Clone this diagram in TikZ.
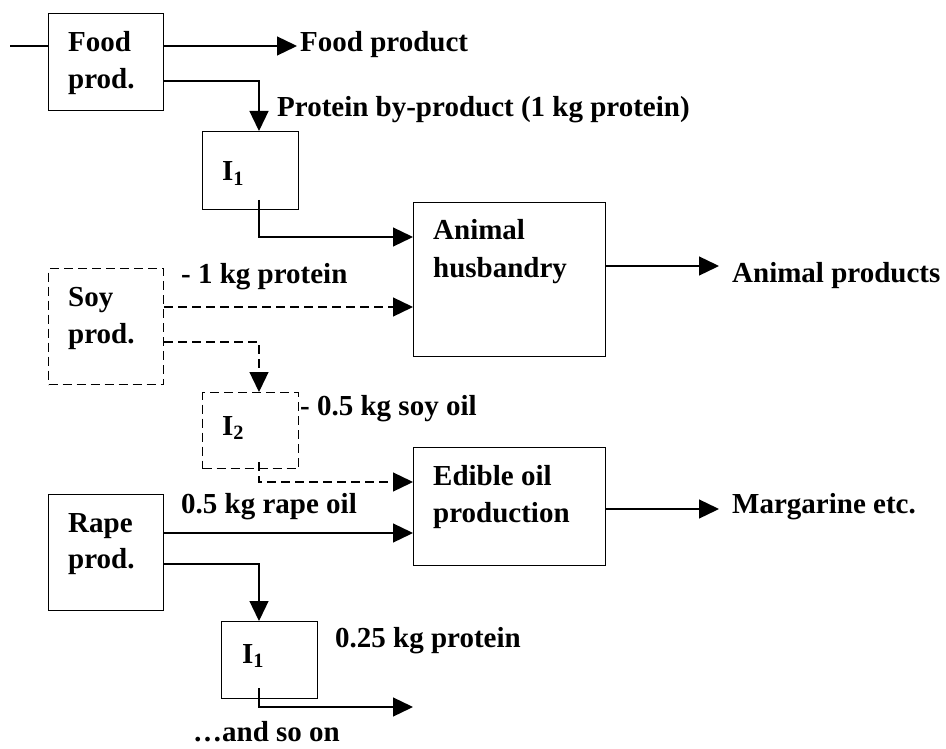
\documentclass[tikz,border=0pt]{standalone}
\usepackage{fontspec}
\setmainfont{Liberation Serif}
\usetikzlibrary{arrows.meta,calc}
\begin{document}
\begin{tikzpicture}[x=1pt,y=-1pt,
  every node/.style={font=\fontsize{29}{35}\selectfont\bfseries},
  box/.style={draw,line width=1.3pt,rectangle,inner sep=0pt,anchor=north west},
  dbox/.style={box,dash pattern=on 9pt off 5pt},
  txt/.style={anchor=base west,inner sep=0pt},
  flow/.style={line width=1.3pt,-{Triangle[length=20pt,width=19pt]}},
  plain/.style={line width=1.3pt},
  dflow/.style={flow,dash pattern=on 9pt off 5pt},
  dplain/.style={plain,dash pattern=on 9pt off 5pt}]
\useasboundingbox (0,0) rectangle (946,749);

% boxes
\node[box,minimum width=115pt,minimum height=97pt] (food) at (48,13) {};
\node[box,minimum width=96pt,minimum height=78pt] (i1) at (202,131) {};
\node[box,minimum width=192pt,minimum height=154pt] (ah) at (413,202) {};
\node[dbox,minimum width=115pt,minimum height=116pt] (soy) at (48,268) {};
\node[dbox,minimum width=96pt,minimum height=76pt] (i2) at (202,392) {};
\node[box,minimum width=192pt,minimum height=118pt] (eo) at (413,447) {};
\node[box,minimum width=115pt,minimum height=116pt] (rape) at (48,494) {};
\node[box,minimum width=96pt,minimum height=77pt] (i1b) at (221,621) {};

% box texts
\node[txt] (foodA) at (68,52) {Food};
\node[txt] (foodB) at (68,89) {prod.};
\node[txt] (i1T) at (222,181) {I\textsubscript{1}};
\node[txt] (ahA) at (433,240) {Animal};
\node[txt] (ahB) at (433,277) {husbandry};
\node[txt] (soyA) at (68,306) {Soy};
\node[txt] (soyB) at (68,343) {prod.};
\node[txt] (i2T) at (222,435) {I\textsubscript{2}};
\node[txt] (eoA) at (433,485) {Edible oil};
\node[txt] (eoB) at (433,522) {production};
\node[txt] (rapeA) at (68,532) {Rape};
\node[txt] (rapeB) at (68,568) {prod.};
\node[txt] (i1bT) at (242,663) {I\textsubscript{1}};

% labels
\node[txt] (fpL) at (300,52) {Food product};
\node[txt] (pbL) at (277,117) {Protein by-product (1 kg protein)};
\node[txt] (apL) at (732,282) {Animal products};
\node[txt] (spL) at (181,283) {- 1 kg protein};
\node[txt] (soL) at (300,415) {- 0.5 kg soy oil};
\node[txt] (mgL) at (732,513) {Margarine etc.};
\node[txt] (roL) at (181,513) {0.5 kg rape oil};
\node[txt] (qpL) at (335,647) {0.25 kg protein};
\node[txt] (soon) at (193,741) {…and so on};

% coordinates
\coordinate (inL) at (10,46);
\coordinate (fpE) at (297,46);
\coordinate (pb) at (259,81);
\coordinate (i1o) at (259,200);
\coordinate (i1c) at (259,237);
\coordinate (apE) at (719,266);
\coordinate (s1) at (0,307);
\coordinate (s2) at (259,342);
\coordinate (i2o) at (259,462);
\coordinate (i2c) at (259,482);
\coordinate (mgE) at (719,509);
\coordinate (r1) at (0,533);
\coordinate (r2) at (259,564);
\coordinate (i1bo) at (259,688);
\coordinate (i1bc) at (259,707);
\coordinate (onE) at (413,707);

% connectors
\draw[plain] (inL) -- (inL -| food.west);
\draw[flow] (food.east |- fpE) -- (fpE);
\draw[flow] (food.east |- pb) -- (pb) -- (pb |- i1.north);
\draw[flow] (i1o) -- (i1c) -- (i1c -| ah.west);
\draw[flow] (ah.east |- apE) -- (apE);
\draw[dflow] (soy.east |- s1) -- (ah.west |- s1);
\draw[dflow] (soy.east |- s2) -- (s2) -- (s2 |- i2.north);
\draw[dflow] (i2o) -- (i2c) -- (i2c -| eo.west);
\draw[flow] (eo.east |- mgE) -- (mgE);
\draw[flow] (rape.east |- r1) -- (eo.west |- r1);
\draw[flow] (rape.east |- r2) -- (r2) -- (r2 |- i1b.north);
\draw[flow] (i1bo) -- (i1bc) -- (onE);
\end{tikzpicture}
\end{document}
